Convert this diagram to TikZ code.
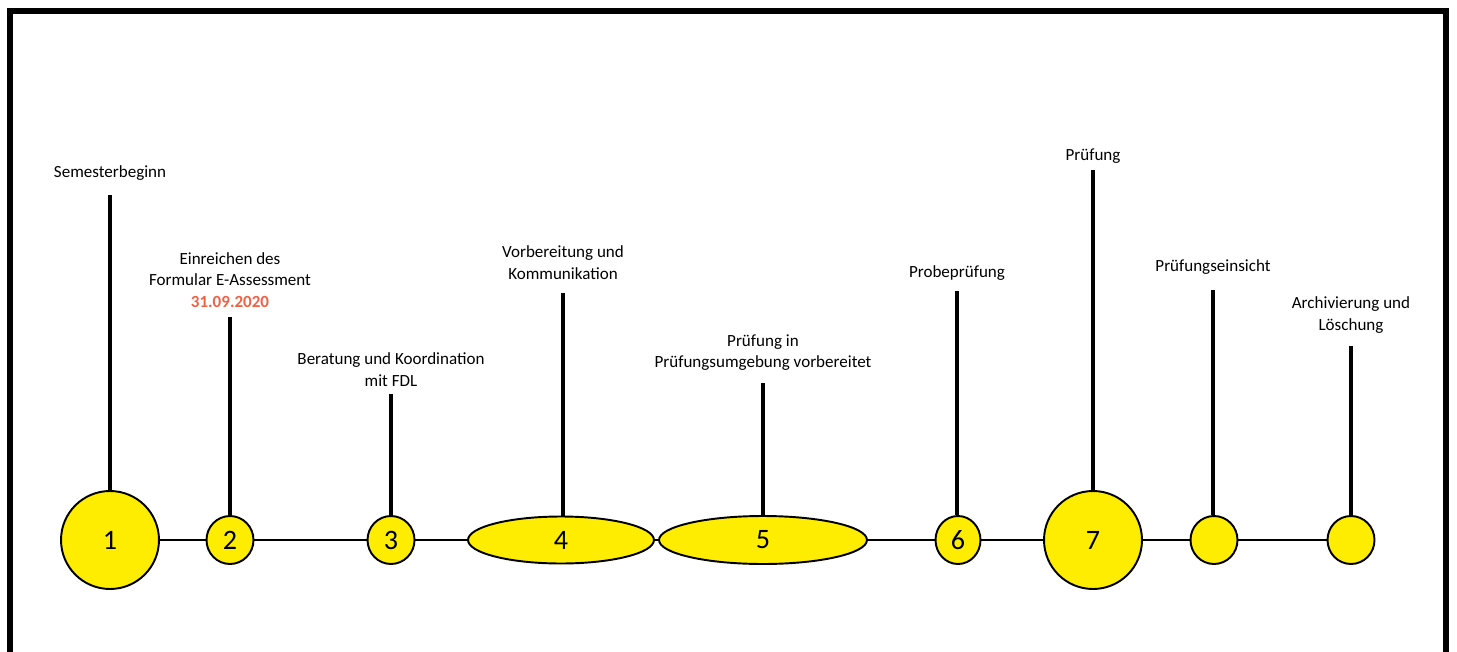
\documentclass[tikz,border=0pt]{standalone}
\usepackage{fontspec}
\setmainfont{Carlito}
\usetikzlibrary{shapes.geometric}
\usetikzlibrary{positioning}
\definecolor{stepyellow}{RGB}{255,237,0}
\definecolor{dateorange}{RGB}{238,98,66}

\begin{document}
\begin{tikzpicture}[x = 0.02cm, y = -0.02cm, line width = 1.1pt,
    milestone/.style = {ellipse, draw, fill = stepyellow, inner sep = 0pt, font = \fontsize{16}{16}\selectfont},
    stem/.style = {line width = 1.8pt},
    caption/.style = {align = center, inner sep = 0pt, text depth = 0pt, font = \fontsize{9.7}{12.2}\selectfont},
]

    \useasboundingbox (0,0) rectangle (1457,652);

    % frame, open at the bottom
    \draw[line width = 0.12cm] (10,652) -- (10,11) -- (1446,11) -- (1446,652);

    \node (M1) at (110,540)  [milestone, minimum width = 1.96cm, minimum height = 1.96cm] {1};
    \node (M2) at (230,540)  [milestone, minimum width = 0.94cm, minimum height = 0.96cm] {2};
    \node (M3) at (391,540)  [milestone, minimum width = 0.94cm, minimum height = 0.96cm] {3};
    \node (M4) at (561,540)  [milestone, minimum width = 3.72cm, minimum height = 0.94cm] {4};
    \node (M5) at (763,540)  [milestone, minimum width = 4.16cm, minimum height = 0.96cm] {5};
    \node (M6) at (958,540)  [milestone, minimum width = 0.90cm, minimum height = 0.96cm] {6};
    \node (M7) at (1093,540) [milestone, minimum width = 1.96cm, minimum height = 1.96cm] {7};
    \node (M8) at (1214,540) [milestone, minimum width = 0.94cm, minimum height = 0.96cm] {};
    \node (M9) at (1351,540) [milestone, minimum width = 0.94cm, minimum height = 0.96cm] {};

    \draw (M1) -- (M2);
    \draw (M2) -- (M3);
    \draw (M3) -- (M4);
    \draw (M4) -- (M5);
    \draw (M5) -- (M6);
    \draw (M6) -- (M7);
    \draw (M7) -- (M8);
    \draw (M8) -- (M9);

    % stems
    \coordinate (T1) at (M1 |- 0,195);
    \coordinate (T2) at (M2 |- 0,317);
    \coordinate (T3) at (M3 |- 0,394);
    \coordinate (T4) at (563,293);
    \coordinate (T5) at (M5 |- 0,383);
    \coordinate (T6) at (957,291);
    \coordinate (T7) at (M7 |- 0,170);
    \coordinate (T8) at (1213,290);
    \coordinate (T9) at (M9 |- 0,346);

    \draw[stem] (M1) -- (T1);
    \draw[stem] (M2) -- (T2);
    \draw[stem] (M3) -- (T3);
    \draw[stem] (M4.north -| T4) -- (T4);
    \draw[stem] (M5) -- (T5);
    \draw[stem] (M6.north -| T6) -- (T6);
    \draw[stem] (M7) -- (T7);
    \draw[stem] (M8.north -| T8) -- (T8);
    \draw[stem] (M9) -- (T9);

    \node (L1) [caption, above = 9.5pt of T1] {Semesterbeginn};
    \node (L2) [caption, above = 5pt of T2] {Einreichen des\\Formular E-Assessment\\\textcolor{dateorange}{\bfseries 31.09.2020}};
    \node (L3) [caption, above = 4pt of T3] {Beratung und Koordination\\mit FDL};
    \node (L4) [caption, above = 7.4pt of T4] {Vorbereitung und\\Kommunikation};
    \node (L5) [caption, above = 8pt of T5] {Prüfung in\\Prüfungsumgebung vorbereitet};
    \node (L6) [caption, above = 7.4pt of T6] {Probeprüfung};
    \node (L7) [caption, above = 4.6pt of T7] {Prüfung};
    \node (L8) [caption, above = 9.7pt of T8] {Prüfungseinsicht};
    \node (L9) [caption, above = 8.5pt of T9] {Archivierung und\\Löschung};

\end{tikzpicture}
\end{document}
